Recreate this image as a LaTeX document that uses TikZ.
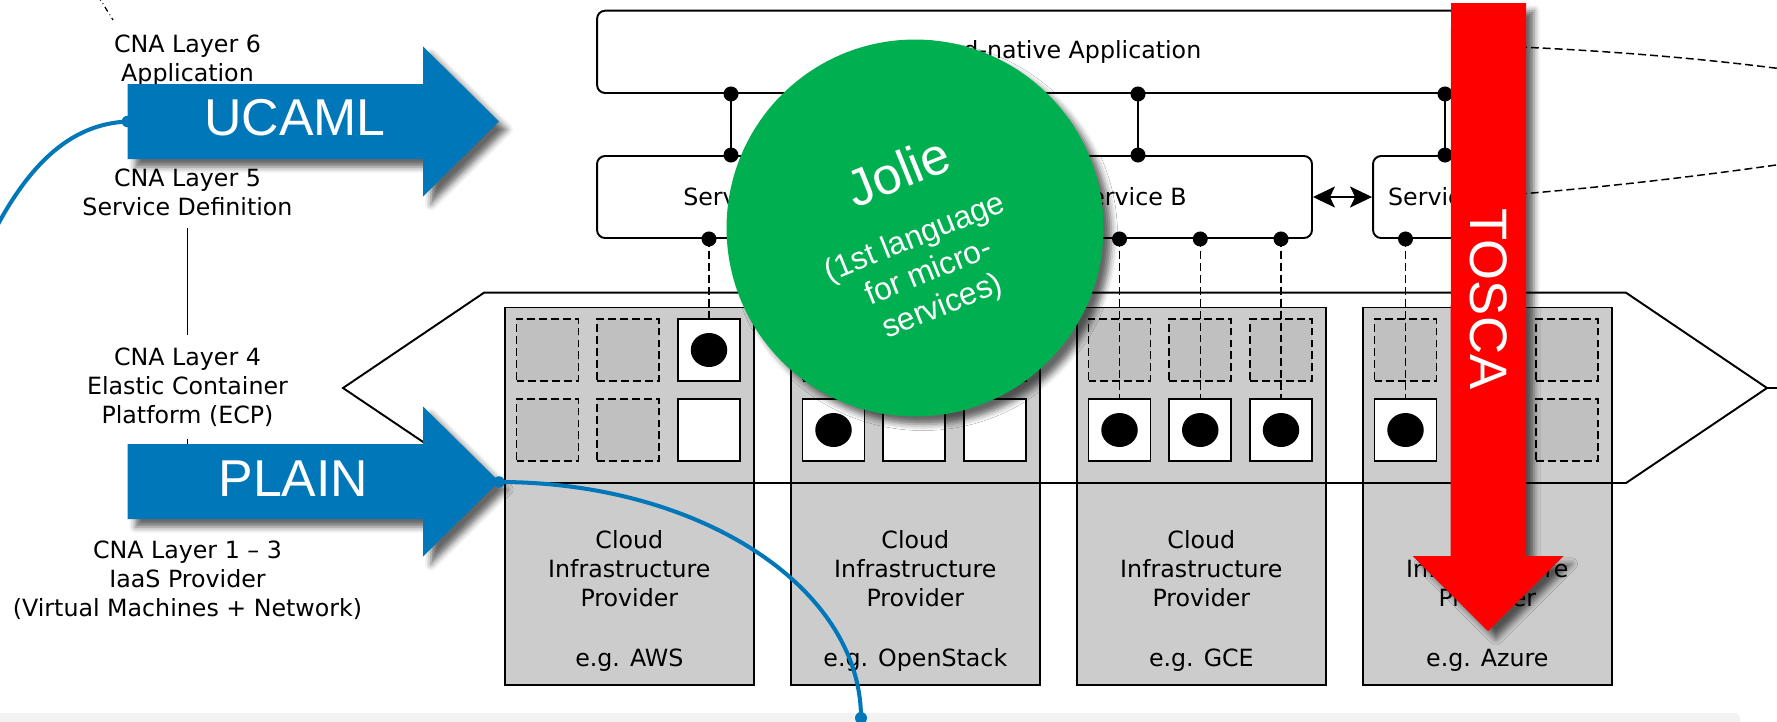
\documentclass[tikz,border=0pt]{standalone}
\usepackage{fontspec}
\setmainfont{DejaVu Sans}
\newfontfamily\arialfont{Liberation Sans}
\usetikzlibrary{positioning, calc, shapes.geometric, arrows.meta, shadows.blur}

\definecolor{ucablue}{RGB}{0,119,185}
\definecolor{joliegreen}{RGB}{0,176,80}
\definecolor{toscared}{RGB}{255,0,0}
\definecolor{boxgray}{RGB}{204,204,204}
\definecolor{slotgray}{RGB}{192,192,192}
\definecolor{bandgray}{RGB}{242,242,242}

\begin{document}
\begin{tikzpicture}[
	x=0.02cm, y=-0.02cm,
	txt/.style={font=\fontsize{13.5pt}{16.5pt}\selectfont, align=center, inner sep=0.24cm},
	svcbox/.style={draw, fill=white, line width=1.1pt, rounded corners=0.16cm, minimum height=1.64cm, inner sep=0, font=\fontsize{13.5pt}{16.5pt}\selectfont},
	provbox/.style={draw, fill=boxgray, line width=1pt, minimum width=4.98cm, minimum height=7.55cm, anchor=north west, inner sep=0},
	slot/.style={draw, dash pattern=on 4.5pt off 2.3pt, fill=slotgray, line width=0.9pt, minimum size=1.24cm, inner sep=0},
	ctbox/.style={draw, fill=white, line width=1.1pt, minimum size=1.24cm, inner sep=0},
	pod/.style={ellipse, fill=black, minimum width=0.73cm, minimum height=0.68cm, inner sep=0},
	link/.style={line width=1.1pt},
	podlink/.style={line width=0.85pt, dash pattern=on 4.5pt off 2.3pt},
	bigtxt/.style={font=\arialfont\fontsize{29.5pt}{35pt}\selectfont, text=white, inner sep=0},
	langarrow/.style={blur shadow={shadow xshift=4.5pt, shadow yshift=-4.5pt, shadow blur radius=3.5pt, shadow opacity=60}},
	bluecurve/.style={ucablue, line width=2.3pt}
	]
	\useasboundingbox (0,0) rectangle (1777,721);
	\clip (0,0) rectangle (1777,721);
	\fill[bandgray, rounded corners=0.1cm] (-10,713) rectangle (1740,735);

	\node[svcbox, minimum width=18.36cm, minimum height=1.646cm] (app) at (1056,51.85) {Cloud-native Application};
	\node[svcbox, minimum width=5.68cm] (svcA) at (739,197) {Service A};
	\node[svcbox, minimum width=7.24cm] (svcB) at (1131,197) {Service B};
	\node[svcbox, minimum width=2.84cm] (svcC) at (1444,197) {Service C};
	\coordinate (jA) at (731,0);
	\coordinate (jB) at (1138,0);
	\coordinate (jC) at (1445,0);
	\foreach \s/\j in {svcA/jA, svcB/jB, svcC/jC} {
		\draw[link] (app.south -| \j) -- (\s.north -| \j);
		\fill (app.south -| \j) circle[radius=0.15cm] (\s.north -| \j) circle[radius=0.15cm];
	}
	\draw[link, {Stealth[length=0.44cm, width=0.42cm, inset=0.1cm]}-{Stealth[length=0.44cm, width=0.42cm, inset=0.1cm]}] (svcB.east) -- (svcC.west);

	\foreach \p/\bx in {aws/504, os/790, gce/1076, az/1362}
		\node[provbox] (\p) at (\bx,306.7) {};
	\foreach \c/\r/\k in {1/1/slot, 2/1/slot, 3/1/ctbox, 1/2/slot, 2/2/slot, 3/2/ctbox}
		\node[\k] (aws\c\r) at ({547.5+(\c-1)*80.75}, {350+(\r-1)*80}) {};
	\foreach \c/\r/\k in {1/1/slot, 2/1/slot, 3/1/slot, 1/2/ctbox, 2/2/ctbox, 3/2/ctbox}
		\node[\k] (os\c\r) at ({833.5+(\c-1)*80.75}, {350+(\r-1)*80}) {};
	\foreach \c/\r/\k in {1/1/slot, 2/1/slot, 3/1/slot, 1/2/ctbox, 2/2/ctbox, 3/2/ctbox}
		\node[\k] (gce\c\r) at ({1119.5+(\c-1)*80.75}, {350+(\r-1)*80}) {};
	\foreach \c/\r/\k in {1/1/slot, 2/1/slot, 3/1/slot, 1/2/ctbox, 2/2/slot, 3/2/slot}
		\node[\k] (az\c\r) at ({1405.5+(\c-1)*80.75}, {350+(\r-1)*80}) {};
	\foreach \p/\e in {aws/AWS, os/OpenStack, gce/GCE, az/Azure} {
		\node[txt, inner sep=0] (\p-name) at ($(\p.north)+(0,262.3)$) {Cloud\\Infrastructure\\Provider};
		\node[txt, inner sep=0] (\p-note) at ($(\p.north)+(0,353.3)$) {e.g. \e};
	}
	\draw[line width=1.1pt] (484,292.7) -- (1626,292.7) -- (1767,388) -- (1626,483) -- (484,483) -- (343,388) -- cycle (1767,388) -- (1777,388);

	\foreach \s/\p in {svcA/aws31, svcA/os12, svcB/gce12, svcB/gce22, svcB/gce32, svcC/az12} {
		\draw[podlink] (\s.south -| \p) -- (\p);
		\fill (\s.south -| \p) circle[radius=0.15cm];
	}
	\foreach \p in {aws31, os12, gce12, gce22, gce32, az12}
		\node[pod] (pod\p) at (\p) {};

	\node[txt] (l6) at (187.5,61) {CNA Layer 6\\Application};
	\node[txt] (l5) at (187.5,192) {CNA Layer 5\\Service Definition};
	\node[txt] (l4) at (187.5,387) {CNA Layer 4\\Elastic Container\\Platform (ECP)};
	\node[txt] (l13) at (187.5,580) {CNA Layer 1 -- 3\\IaaS Provider\\(Virtual Machines + Network)};
	\coordinate (upA) at (98,-4);
	\coordinate (upB) at (113,20);
	\draw[dash dot, line width=0.7pt] (upA) -- (upB);
	\coordinate (ucamltail) at (127.5,121.5);
	\coordinate (plaintail) at (127.5,481.5);
	\draw[line width=0.85pt] (l5) -- (l4);
	\draw[line width=0.85pt] (l4) -- (l4 |- plaintail);

	\coordinate (zoomA) at (1495,46);
	\coordinate (zoomB) at (1790,70);
	\coordinate (zoomC) at (1495,196);
	\coordinate (zoomD) at (1790,163);
	\draw[podlink] (zoomA) .. controls (1600,50) and (1700,58) .. (zoomB);
	\draw[podlink] (zoomC) .. controls (1600,188) and (1700,176) .. (zoomD);

	\fill[ucablue, langarrow] (ucamltail) -- ++(0,-37.5) -- ++(295.5,0) -- ++(0,-37.5) -- ++(76,75) -- ++(-76,75) -- ++(0,-37.5) -- ++(-295.5,0) -- cycle;
	\node[bigtxt] (ucaml) at (295,118) {UCAML};
	\fill[ucablue, langarrow] (plaintail) -- ++(0,-37.5) -- ++(295.5,0) -- ++(0,-37.5) -- ++(76,75) -- ++(-76,75) -- ++(0,-37.5) -- ++(-295.5,0) -- cycle;
	\node[bigtxt] (plain) at (293.5,479) {PLAIN};

	\coordinate (ucamlend) at (-15,250);
	\coordinate (plaintip) at (499,482);
	\coordinate (plainend) at (861,718);
	\draw[bluecurve] (ucamltail) .. controls (70,124) and (25,165) .. (ucamlend);
	\draw[bluecurve] (plaintip) .. controls (699,482) and (861,587) .. (plainend);
	\fill[ucablue] (ucamltail) circle[radius=0.115cm] (plaintip) circle[radius=0.115cm] (plainend) circle[radius=0.12cm];

	\node[circle, fill=joliegreen, minimum size=7.54cm, inner sep=0, langarrow] (jolie) at (915,228) {};
	\node[bigtxt, rotate=22] (jolietitle) at (898,171) {Jolie};
	\node[bigtxt, font=\arialfont\fontsize{18pt}{21pt}\selectfont, align=center, rotate=22] (jolienote) at (929,273) {(1st language\\for micro-\\services)};

	\coordinate (toscatail) at (1488.5,3);
	\fill[toscared, langarrow] (toscatail) ++(-37.5,0) -- ++(75,0) -- ++(0,553) -- ++(37.5,0) -- ++(-75.5,75) -- ++(-75.5,-75) -- ++(38,0) -- cycle;
	\node[bigtxt, font=\arialfont\fontsize{30pt}{36pt}\selectfont, rotate=-90] (tosca) at (1488.5,299) {TOSCA};
\end{tikzpicture}
\end{document}
